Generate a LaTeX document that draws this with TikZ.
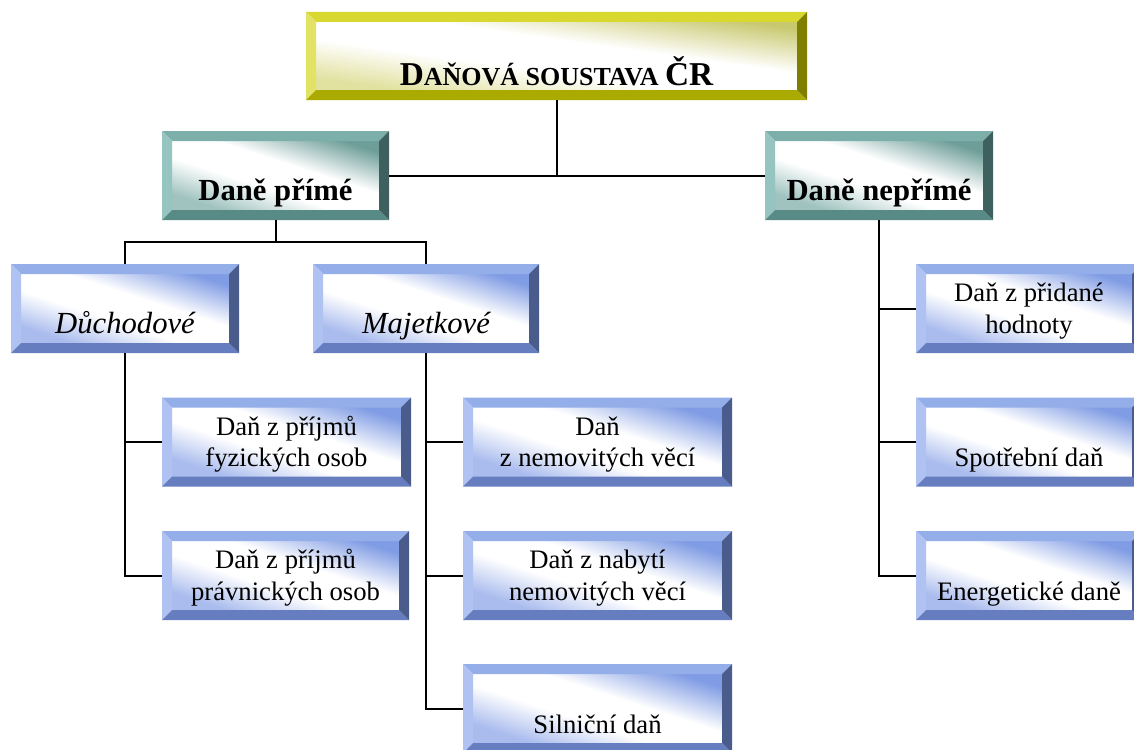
\documentclass[tikz,border=0pt]{standalone}
\usepackage{fontspec}
\setmainfont{Liberation Serif}
\definecolor{bluetop}{RGB}{148,174,234}
\definecolor{blueleft}{RGB}{176,194,242}
\definecolor{bluebot}{RGB}{102,126,192}
\definecolor{blueright}{RGB}{74,92,140}
\definecolor{bluetint}{RGB}{128,156,228}
\definecolor{bluetintl}{RGB}{170,188,238}
\definecolor{tealtop}{RGB}{125,175,170}
\definecolor{tealleft}{RGB}{150,196,192}
\definecolor{tealbot}{RGB}{88,138,134}
\definecolor{tealright}{RGB}{62,96,94}
\definecolor{tealtint}{RGB}{110,158,153}
\definecolor{tealtintl}{RGB}{160,195,191}
\definecolor{yeltop}{RGB}{216,216,48}
\definecolor{yelleft}{RGB}{226,226,100}
\definecolor{yelbot}{RGB}{170,170,0}
\definecolor{yelright}{RGB}{126,126,0}
\definecolor{yeltint}{RGB}{200,200,110}
\definecolor{yeltintl}{RGB}{225,225,160}
\pgfdeclarehorizontalshading{bluegrad}{100bp}{color(0bp)=(bluetintl); color(30bp)=(bluetintl); color(44bp)=(white); color(56bp)=(white); color(72bp)=(bluetint); color(100bp)=(bluetint)}
\pgfdeclarehorizontalshading{tealgrad}{100bp}{color(0bp)=(tealtintl); color(30bp)=(tealtintl); color(44bp)=(white); color(56bp)=(white); color(72bp)=(tealtint); color(100bp)=(tealtint)}
\pgfdeclarehorizontalshading{yelgrad}{100bp}{color(0bp)=(yeltintl); color(30bp)=(yeltintl); color(44bp)=(white); color(56bp)=(white); color(72bp)=(yeltint); color(100bp)=(yeltint)}
\def\bevw{7.5pt}
\newcommand\twolines[2]{\vbox{\baselineskip=23.5pt\halign{\hfil##\hfil\cr#1\cr#2\cr}}}
\tikzset{
  bev/.style n args={3}{inner sep=0pt, minimum width={#2*0.75pt}, minimum height=66.75pt,
    text height=51.75pt, text depth=15pt,
    path picture={
      \shade[shading=#1grad, shading angle=#3]
        ([shift={(\bevw,-\bevw)}]path picture bounding box.north west) rectangle
        ([shift={(-\bevw,\bevw)}]path picture bounding box.south east);
      \fill[#1top] (path picture bounding box.north west) -- (path picture bounding box.north east)
        -- ([shift={(-\bevw,-\bevw)}]path picture bounding box.north east)
        -- ([shift={(\bevw,-\bevw)}]path picture bounding box.north west) -- cycle;
      \fill[#1left] (path picture bounding box.north west)
        -- ([shift={(\bevw,-\bevw)}]path picture bounding box.north west)
        -- ([shift={(\bevw,\bevw)}]path picture bounding box.south west)
        -- (path picture bounding box.south west) -- cycle;
      \fill[#1bot] (path picture bounding box.south west) -- (path picture bounding box.south east)
        -- ([shift={(-\bevw,\bevw)}]path picture bounding box.south east)
        -- ([shift={(\bevw,\bevw)}]path picture bounding box.south west) -- cycle;
      \fill[#1right] (path picture bounding box.north east) -- (path picture bounding box.south east)
        -- ([shift={(-\bevw,\bevw)}]path picture bounding box.south east)
        -- ([shift={(-\bevw,-\bevw)}]path picture bounding box.north east) -- cycle;
    }},
  leaf/.style={bev={blue}{#1}{72}, font=\fontsize{20}{24}\selectfont},
  mid/.style={bev={blue}{#1}{72}, font=\itshape\fontsize{23}{27}\selectfont},
  top2/.style={bev={teal}{#1}{72}, font=\bfseries\fontsize{23}{27}\selectfont},
  conn/.style={draw=black, line width=1.5pt},
}
\begin{document}
\begin{tikzpicture}[x=0.75pt, y=-0.75pt]
\useasboundingbox (0,0) rectangle (1134,749);
\clip (0,0) rectangle (1134,749);
\node[bev={yel}{501}{82}, minimum height=66pt, text height=54.75pt, text depth=11.25pt,
  font=\bfseries] (title) at (556.5,56)
  {\fontsize{25}{30}\selectfont D\fontsize{19.5}{30}\selectfont AŇOVÁ SOUSTAVA \fontsize{25}{30}\selectfont ČR};
\node[top2=227] (dp) at (275.5,175.5) {Daně přímé};
\node[top2=228] (dn) at (879,175.5) {Daně nepřímé};
\node[mid=228] (duch) at (125,308.5) {Důchodové};
\node[mid=226] (maj) at (426,308.5) {Majetkové};
\node[leaf=249] (fyz) at (286.5,442) {\twolines{Daň z příjmů}{fyzických osob}};
\node[leaf=247] (prav) at (285.5,575.5) {\twolines{Daň z příjmů}{právnických osob}};
\node[leaf=269] (nem) at (597.5,442) {\twolines{Daň}{z nemovitých věcí}};
\node[leaf=269] (nab) at (597.5,575.5) {\twolines{Daň z nabytí}{nemovitých věcí}};
\node[leaf=269] (siln) at (597.5,708.5) {Silniční daň};
\node[leaf=226] (dph) at (1029,308.5) {\twolines{Daň z přidané}{hodnoty}};
\node[leaf=226] (spot) at (1029,442) {Spotřební daň};
\node[leaf=226] (ener) at (1029,575.5) {Energetické daně};
\coordinate (dpj) at (275.5,242);
\draw[conn] (dp.east) -- (dn.west);
\draw[conn] (title.south) -- (title.south |- dp.east);
\draw[conn] (dp.south) -- (dpj);
\draw[conn] (duch.north) |- (dpj) -| (maj.north);
\draw[conn] (duch.south) |- (fyz.west);
\draw[conn] (duch.south) |- (prav.west);
\draw[conn] (maj.south) |- (nem.west);
\draw[conn] (maj.south) |- (nab.west);
\draw[conn] (maj.south) |- (siln.west);
\draw[conn] (dn.south) |- (dph.west);
\draw[conn] (dn.south) |- (spot.west);
\draw[conn] (dn.south) |- (ener.west);
\end{tikzpicture}
\end{document}
